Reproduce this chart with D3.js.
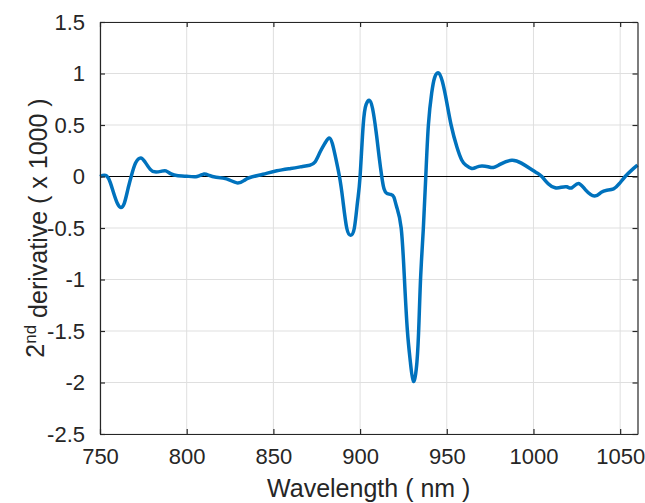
<!DOCTYPE html>
<html>
<head>
<meta charset="utf-8">
<script src="https://cdn.jsdelivr.net/npm/d3@7"></script>
<style>
  html, body { margin: 0; padding: 0; background: #fff; }
  svg { display: block; font-family: "Liberation Sans", Arial, Helvetica, sans-serif; }
</style>
</head>
<body>
<svg id="chart" width="645" height="503"></svg>
<script>
// Data (wavelength in nm, 2nd derivative x 1000)
const wavelength = [750, 752.5, 755, 757.5, 760, 762, 764, 766, 768, 770.5, 773.5, 776, 779, 781.6, 785, 788, 791, 795, 800, 806, 810, 813, 817, 823, 829, 833, 836.5, 844, 852, 860, 866, 871, 874, 877, 880, 882.2, 884, 885.8, 888.1, 890, 892.3, 894.6, 896.7, 898.5, 900, 901.8, 903.5, 905.4, 907.2, 909.2, 911, 912.5, 913.8, 915.5, 917.8, 919.5, 921.1, 923.7, 925.6, 927.3, 929, 930.8, 932.8, 934, 935, 936.5, 937.9, 939.4, 941.3, 943, 945.2, 947.5, 950, 952.5, 955.8, 958.6, 961, 964.4, 967, 970.2, 973.8, 976.9, 981, 987.5, 993, 998, 1001.5, 1004.8, 1008.5, 1012.5, 1016, 1019.2, 1022.1, 1025.9, 1030, 1035.2, 1039, 1042.3, 1046.2, 1049.5, 1052.9, 1056.5, 1060];
const derivative = [0.0, 0.012, -0.02, -0.14, -0.26, -0.30, -0.26, -0.13, 0.0, 0.13, 0.18, 0.14, 0.07, 0.045, 0.05, 0.055, 0.025, 0.008, 0.003, 0.0, 0.025, 0.01, -0.007, -0.023, -0.062, -0.04, -0.01, 0.022, 0.055, 0.078, 0.095, 0.11, 0.14, 0.24, 0.33, 0.375, 0.32, 0.19, 0.0, -0.22, -0.5, -0.57, -0.5, -0.25, 0.0, 0.5, 0.70, 0.74, 0.66, 0.44, 0.19, 0.0, -0.12, -0.165, -0.175, -0.2, -0.295, -0.5, -1.0, -1.5, -1.8, -1.99, -1.8, -1.4, -0.95, -0.5, 0.0, 0.5, 0.81, 0.96, 1.007, 0.92, 0.72, 0.5, 0.288, 0.16, 0.11, 0.078, 0.09, 0.103, 0.095, 0.087, 0.12, 0.158, 0.13, 0.078, 0.04, 0.0, -0.07, -0.11, -0.105, -0.10, -0.11, -0.068, -0.13, -0.19, -0.155, -0.133, -0.12, -0.07, 0.0, 0.06, 0.11];
const xTicks = [750, 800, 850, 900, 950, 1000, 1050];
const yTicks = [-2.5, -2, -1.5, -1, -0.5, 0, 0.5, 1, 1.5];
const xDomain = [750, 1060];
const yDomain = [-2.5, 1.5];
const xLabel = "Wavelength ( nm )";

(function () {
const svg = d3.select("#chart");
const pl = 100, pr = 637.5, pt = 22, pb = 434;
const x = d3.scaleLinear().domain(xDomain).range([pl, pr]);
const y = d3.scaleLinear().domain(yDomain).range([pb, pt]);
const axisColor = "#262626";
const gridColor = "#dfdfdf";

// grid
const grid = svg.append("g");
grid.selectAll("line.vx").data(xTicks).join("line")
  .attr("x1", d => x(d)).attr("x2", d => x(d))
  .attr("y1", pt).attr("y2", pb)
  .attr("stroke", gridColor).attr("stroke-width", 1);
grid.selectAll("line.hy").data(yTicks).join("line")
  .attr("x1", pl).attr("x2", pr)
  .attr("y1", d => y(d)).attr("y2", d => y(d))
  .attr("stroke", gridColor).attr("stroke-width", 1);

// zero line
svg.append("line")
  .attr("x1", pl).attr("x2", pr)
  .attr("y1", y(0)).attr("y2", y(0))
  .attr("stroke", "#000").attr("stroke-width", 1.1);

// data line
const data = wavelength.map((w, i) => [w, derivative[i]]);
const line = d3.line().x(d => x(d[0])).y(d => y(d[1])).curve(d3.curveNatural);
svg.append("path").datum(data)
  .attr("d", line)
  .attr("fill", "none")
  .attr("stroke", "#0072BD")
  .attr("stroke-width", 3.5)
  .attr("stroke-linejoin", "round");

// axes (ticks inside, on all four sides)
const tickLen = 5;
const fmt = d => String(d);
const xAxisB = d3.axisBottom(x).tickValues(xTicks).tickSizeInner(-tickLen).tickSizeOuter(0).tickPadding(14).tickFormat(fmt);
const xAxisT = d3.axisTop(x).tickValues(xTicks).tickSizeInner(-tickLen).tickSizeOuter(0).tickFormat("");
const yAxisL = d3.axisLeft(y).tickValues(yTicks).tickSizeInner(-tickLen).tickSizeOuter(0).tickPadding(15).tickFormat(fmt);
const yAxisR = d3.axisRight(y).tickValues(yTicks).tickSizeInner(-tickLen).tickSizeOuter(0).tickFormat("");

function style(g) {
  g.selectAll(".domain").attr("stroke", axisColor).attr("stroke-width", 1.2);
  g.selectAll(".tick line").attr("stroke", axisColor).attr("stroke-width", 1.2);
  g.selectAll(".tick text").attr("fill", axisColor).style("font-size", "22px")
    .style("font-family", "'Liberation Sans', Arial, Helvetica, sans-serif");
}
svg.append("g").attr("transform", `translate(0,${pb})`).call(xAxisB).call(style);
svg.append("g").attr("transform", `translate(0,${pt})`).call(xAxisT).call(style);
svg.append("g").attr("transform", `translate(${pl},0)`).call(yAxisL).call(style);
svg.append("g").attr("transform", `translate(${pr},0)`).call(yAxisR).call(style);

// axis labels
svg.append("text")
  .attr("x", (pl + pr) / 2).attr("y", 497)
  .attr("text-anchor", "middle")
  .attr("fill", axisColor)
  .style("font-size", "25px")
  .text(xLabel);

const yl = svg.append("text")
  .attr("transform", `translate(43.5,${(pt + pb) / 2}) rotate(-90)`)
  .attr("text-anchor", "middle")
  .attr("fill", axisColor)
  .style("font-size", "25px");
yl.append("tspan").text("2");
yl.append("tspan").attr("dy", "-0.45em").style("font-size", "17px").text("nd");
yl.append("tspan").attr("dy", "0.45em").text(" derivative ( x 1000 )");
})();
</script>
</body>
</html>
